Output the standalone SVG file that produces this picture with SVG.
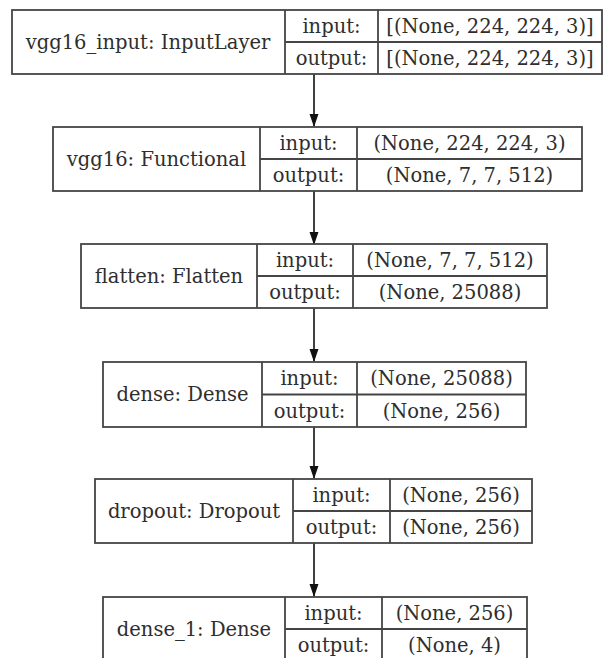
<svg xmlns="http://www.w3.org/2000/svg" width="604" height="658" viewBox="0 0 604 658">
  <style>
    .box { fill: #ffffff; stroke: #454545; stroke-width: 1.8; }
    .ln { stroke: #454545; stroke-width: 1.8; fill: none; }
    .t { font-family: "DejaVu Serif", "Liberation Serif", serif; font-size: 19.5px; fill: #2e2e2e; text-anchor: middle; }
    .edge { stroke: #111111; stroke-width: 1.6; fill: none; marker-end: url(#arrow); }
  </style>
  <defs>
    <marker id="arrow" markerWidth="13" markerHeight="10" refX="12" refY="5" orient="auto" markerUnits="userSpaceOnUse" viewBox="0 0 13 10">
      <path d="M0,0.5 L13,5 L0,9.5 z" fill="#111111"/>
    </marker>
  </defs>
  <rect width="604" height="658" fill="#ffffff"/>

  <g id="edges">
    <line class="edge" x1="314" y1="74" x2="314" y2="126"/>
    <line class="edge" x1="314" y1="191" x2="314" y2="244"/>
    <line class="edge" x1="314" y1="308" x2="314" y2="361"/>
    <line class="edge" x1="314" y1="427" x2="314" y2="478"/>
    <line class="edge" x1="314" y1="543" x2="314" y2="596"/>
  </g>

  <g id="vgg16_input">
    <rect class="box" x="12" y="10" width="590" height="64"/>
    <path class="ln" d="M285,10 V74 M378,10 V74 M285,42 H602"/>
    <text class="t" x="148" y="49">vgg16_input: InputLayer</text>
    <text class="t" x="331.5" y="33">input:</text>
    <text class="t" x="331.5" y="65">output:</text>
    <text class="t" x="490" y="33">[(None, 224, 224, 3)]</text>
    <text class="t" x="490" y="65">[(None, 224, 224, 3)]</text>
  </g>

  <g id="vgg16">
    <rect class="box" x="53" y="127" width="529" height="64"/>
    <path class="ln" d="M260,127 V191 M357,127 V191 M260,159 H582"/>
    <text class="t" x="156.5" y="166">vgg16: Functional</text>
    <text class="t" x="308.5" y="150">input:</text>
    <text class="t" x="308.5" y="182">output:</text>
    <text class="t" x="469.5" y="150">(None, 224, 224, 3)</text>
    <text class="t" x="469.5" y="182">(None, 7, 7, 512)</text>
  </g>

  <g id="flatten">
    <rect class="box" x="81" y="244" width="466" height="64"/>
    <path class="ln" d="M257,244 V308 M353,244 V308 M257,276 H547"/>
    <text class="t" x="169" y="283">flatten: Flatten</text>
    <text class="t" x="305" y="267">input:</text>
    <text class="t" x="305" y="299">output:</text>
    <text class="t" x="450" y="267">(None, 7, 7, 512)</text>
    <text class="t" x="450" y="299">(None, 25088)</text>
  </g>

  <g id="dense">
    <rect class="box" x="103" y="362" width="423" height="65"/>
    <path class="ln" d="M262,362 V427 M357,362 V427 M262,394.5 H526"/>
    <text class="t" x="182.5" y="401">dense: Dense</text>
    <text class="t" x="309.5" y="385">input:</text>
    <text class="t" x="309.5" y="418">output:</text>
    <text class="t" x="441.5" y="385">(None, 25088)</text>
    <text class="t" x="441.5" y="418">(None, 256)</text>
  </g>

  <g id="dropout">
    <rect class="box" x="95" y="479" width="437" height="64"/>
    <path class="ln" d="M293,479 V543 M390,479 V543 M293,511 H532"/>
    <text class="t" x="194" y="518">dropout: Dropout</text>
    <text class="t" x="341.5" y="502">input:</text>
    <text class="t" x="341.5" y="534">output:</text>
    <text class="t" x="461" y="502">(None, 256)</text>
    <text class="t" x="461" y="534">(None, 256)</text>
  </g>

  <g id="dense_1">
    <rect class="box" x="103" y="597" width="424" height="64"/>
    <path class="ln" d="M285,597 V661 M382,597 V661 M285,629 H527"/>
    <text class="t" x="194" y="636">dense_1: Dense</text>
    <text class="t" x="333.5" y="620">input:</text>
    <text class="t" x="333.5" y="652">output:</text>
    <text class="t" x="454.5" y="620">(None, 256)</text>
    <text class="t" x="454.5" y="652">(None, 4)</text>
  </g>
</svg>
